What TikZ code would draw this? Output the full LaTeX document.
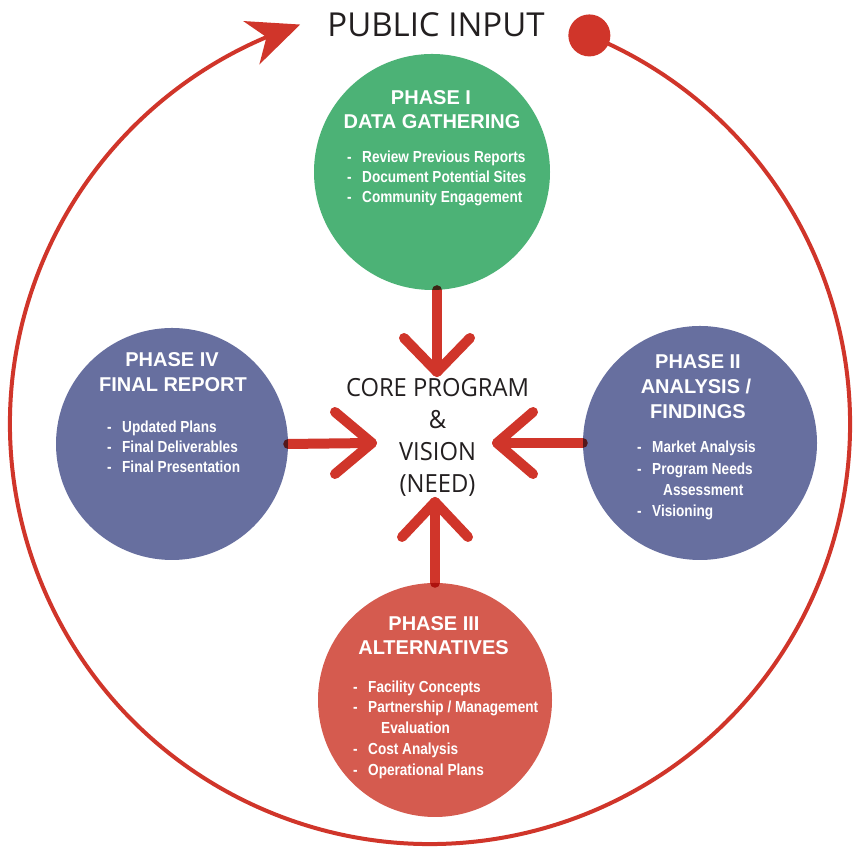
\documentclass[tikz,border=0pt]{standalone}
\usepackage{fontspec}
\setmainfont{Liberation Sans}
\newfontfamily\bulfont[FakeStretch=0.85]{Liberation Sans}
\newfontfamily\myriad{Open Sans}
\newfontfamily\myriadc[FakeStretch=0.95]{Open Sans}
\usetikzlibrary{arrows.meta,calc,bending}
\definecolor{pgreen}{HTML}{4CB276}
\definecolor{pblue}{HTML}{676F9F}
\definecolor{pred}{HTML}{D55B4F}
\definecolor{lred}{HTML}{D0352A}
\definecolor{dtext}{HTML}{231F20}
\begin{document}
\begin{tikzpicture}[x=1pt,y=1pt,
  phase/.style={circle,minimum size=#1,inner sep=0pt,draw=none},
  head/.style={font=\fontsize{20}{24}\selectfont\bfseries,text=white,anchor=base,inner sep=0pt},
  bul/.style={font=\bulfont\fontsize{16}{19}\selectfont\bfseries,text=white,anchor=base west,inner sep=0pt},
  core/.style={font=\myriadc\fontsize{25}{30}\selectfont,text=dtext,anchor=base,inner sep=0pt},
  redline/.style={draw=lred,line width=10pt,line cap=round,line join=round},
  ring/.style={draw=lred,line width=4pt}]
\useasboundingbox (0,0) rectangle (860,850);
\fill[white] (0,0) rectangle (860,850);
% outer cycle
\coordinate (C) at (430,426);
\node[circle,fill=lred,minimum size=42pt,inner sep=0pt] (dot) at ($(C)+(67.7:420)$) {};
\draw[ring,-{Stealth[length=52pt,width=46pt,inset=16pt,flex]}] (dot.center) arc[start angle=67.7,end angle=-252,radius=420];
\node[font=\myriad\fontsize{33}{36}\selectfont,text=dtext,anchor=base,inner sep=0pt] (pub) at (436,813) {PUBLIC INPUT};
% phase circles
\node[phase=236pt,fill=pgreen] (p1) at (432,678) {};
\node[phase=234pt,fill=pblue] (p2) at (700,407) {};
\node[phase=232pt,fill=pblue] (p4) at (172,406) {};
\node[phase=234pt,fill=pred] (p3) at (435,150) {};
% arrows
\coordinate (t1) at (437,478);
\coordinate (t2) at (497,407);
\coordinate (t3) at (435,348);
\coordinate (t4) at (372,407);
\begin{scope}[blend mode=multiply]
\draw[redline] (t1 |- p1.south) -- (t1);
\draw[redline] (p2.west) -- (t2);
\draw[redline] (p3.north) -- (t3);
\draw[redline] (p4.east) -- (t4);
\end{scope}
\draw[redline] ($(t1)+(-33,34)$) -- (t1) -- ($(t1)+(33,34)$);
\draw[redline] ($(t2)+(36,31)$) -- (t2) -- ($(t2)+(36,-31)$);
\draw[redline] ($(t3)+(-33,-35)$) -- (t3) -- ($(t3)+(33,-35)$);
\draw[redline] ($(t4)+(-37,31)$) -- (t4) -- ($(t4)+(-37,-31)$);
% core text
\node[core] (c1) at (437.5,453) {CORE PROGRAM};
\node[core] (c2) at (437.5,421) {\&};
\node[core] (c3) at (437.5,389) {VISION};
\node[core] (c4) at (437.5,357) {(NEED)};
% phase I
\node[head] (h11) at (431,745) {PHASE I};
\node[head] (h12) at (432,721) {DATA GATHERING};
\node[bul] (b11) at (362,687) {\llap{\makebox[15pt][l]{-}}Review Previous Reports};
\node[bul] (b12) at (362,667) {\llap{\makebox[15pt][l]{-}}Document Potential Sites};
\node[bul] (b13) at (362,647) {\llap{\makebox[15pt][l]{-}}Community Engagement};
% phase II
\node[head] (h21) at (698,481) {PHASE II};
\node[head] (h22) at (696,456) {ANALYSIS /};
\node[head] (h23) at (698,431) {FINDINGS};
\node[bul] (b21) at (652,397) {\llap{\makebox[15pt][l]{-}}Market Analysis};
\node[bul] (b22) at (652,375) {\llap{\makebox[15pt][l]{-}}Program Needs};
\node[bul] (b23) at (663,354) {Assessment};
\node[bul] (b24) at (652,333) {\llap{\makebox[15pt][l]{-}}Visioning};
% phase IV
\node[head] (h41) at (172,483) {PHASE IV};
\node[head] (h42) at (173,458) {FINAL REPORT};
\node[bul] (b41) at (122,417) {\llap{\makebox[15pt][l]{-}}Updated Plans};
\node[bul] (b42) at (122,397) {\llap{\makebox[15pt][l]{-}}Final Deliverables};
\node[bul] (b43) at (122,377) {\llap{\makebox[15pt][l]{-}}Final Presentation};
% phase III
\node[head] (h31) at (434,219) {PHASE III};
\node[head] (h32) at (433.5,195) {ALTERNATIVES};
\node[bul] (b31) at (368,157) {\llap{\makebox[15pt][l]{-}}Facility Concepts};
\node[bul] (b32) at (368,137) {\llap{\makebox[15pt][l]{-}}Partnership / Management};
\node[bul] (b33) at (381,116) {Evaluation};
\node[bul] (b34) at (368,95) {\llap{\makebox[15pt][l]{-}}Cost Analysis};
\node[bul] (b35) at (368,74) {\llap{\makebox[15pt][l]{-}}Operational Plans};
\end{tikzpicture}
\end{document}
